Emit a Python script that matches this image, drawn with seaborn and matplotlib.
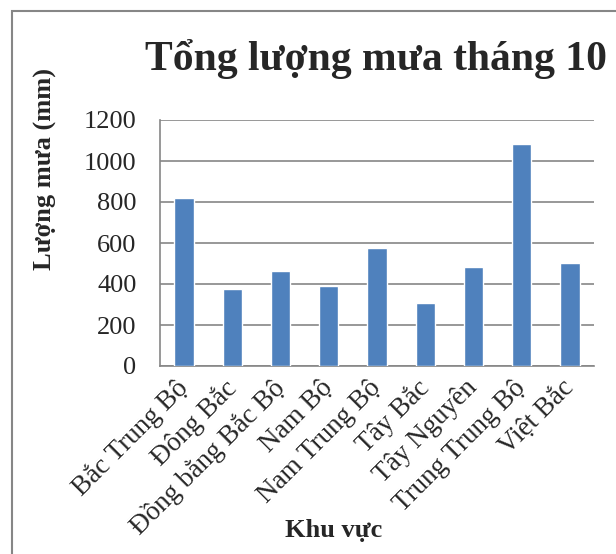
import matplotlib
matplotlib.use("Agg")
import matplotlib.pyplot as plt
import seaborn as sns
from matplotlib.patches import Rectangle

regions = ["Bắc Trung Bộ", "Đông Bắc", "Đồng bằng Bắc Bộ", "Nam Bộ", "Nam Trung Bộ",
           "Tây Bắc", "Tây Nguyên", "Trung Trung Bộ", "Việt Bắc"]
rainfall = [820, 376, 464, 391, 578, 306, 483, 1081, 503]
yticks = [0, 200, 400, 600, 800, 1000, 1200]

sns.set_style("white")
plt.rcParams["font.family"] = ["Liberation Serif", "DejaVu Serif"]

fig = plt.figure(figsize=(6.16, 5.54), dpi=100)
ax = fig.add_axes([160 / 616, 1 - 366 / 554, 434 / 616, 246 / 554])

sns.barplot(x=regions, y=rainfall, color="#4F81BD", saturation=1, width=0.4, ax=ax, zorder=3)

grey = "#868686"
ax.set_xlim(-0.5, len(regions) - 0.5)
ax.set_ylim(0, 1200)
ax.set_yticks(yticks)
ax.yaxis.grid(True, color=grey, linewidth=1.2, zorder=0)
ax.xaxis.grid(False)
for side in ["top", "right"]:
    ax.spines[side].set_visible(False)
for side in ["left", "bottom"]:
    ax.spines[side].set_color(grey)
    ax.spines[side].set_linewidth(1.2)

ax.tick_params(axis="y", direction="out", length=8, color=grey, width=1.2, labelsize=19, pad=9)
ax.set_xticks(range(len(regions)))
ax.set_xticklabels(regions, rotation=45, ha="right", va="center", rotation_mode="anchor", fontsize=19.5)
ax.tick_params(axis="x", which="major", length=0, pad=13)
ax.set_xticks([i - 0.5 for i in range(len(regions) + 1)], minor=True)
ax.tick_params(axis="x", which="minor", direction="out", length=8, color=grey, width=1.2)

ax.set_xlabel("Khu vực", fontsize=19, fontweight="bold", va="top")
ax.xaxis.set_label_coords(0.399, -0.62)
ax.set_ylabel("Lượng mưa (mm)", fontsize=19, fontweight="bold")
ax.yaxis.set_label_coords(-0.237, 0.80)

fig.text(376 / 616, 1 - 70 / 554, "Tổng lượng mưa tháng 10", ha="center", va="baseline",
         fontsize=30, fontweight="bold")

fig.patches.append(Rectangle((12 / 616, -0.5), 2, 0.5 + 1 - 11 / 554, transform=fig.transFigure,
                             fill=False, edgecolor=grey, linewidth=1.5, clip_on=False))

fig.savefig("out.png", dpi=100)
